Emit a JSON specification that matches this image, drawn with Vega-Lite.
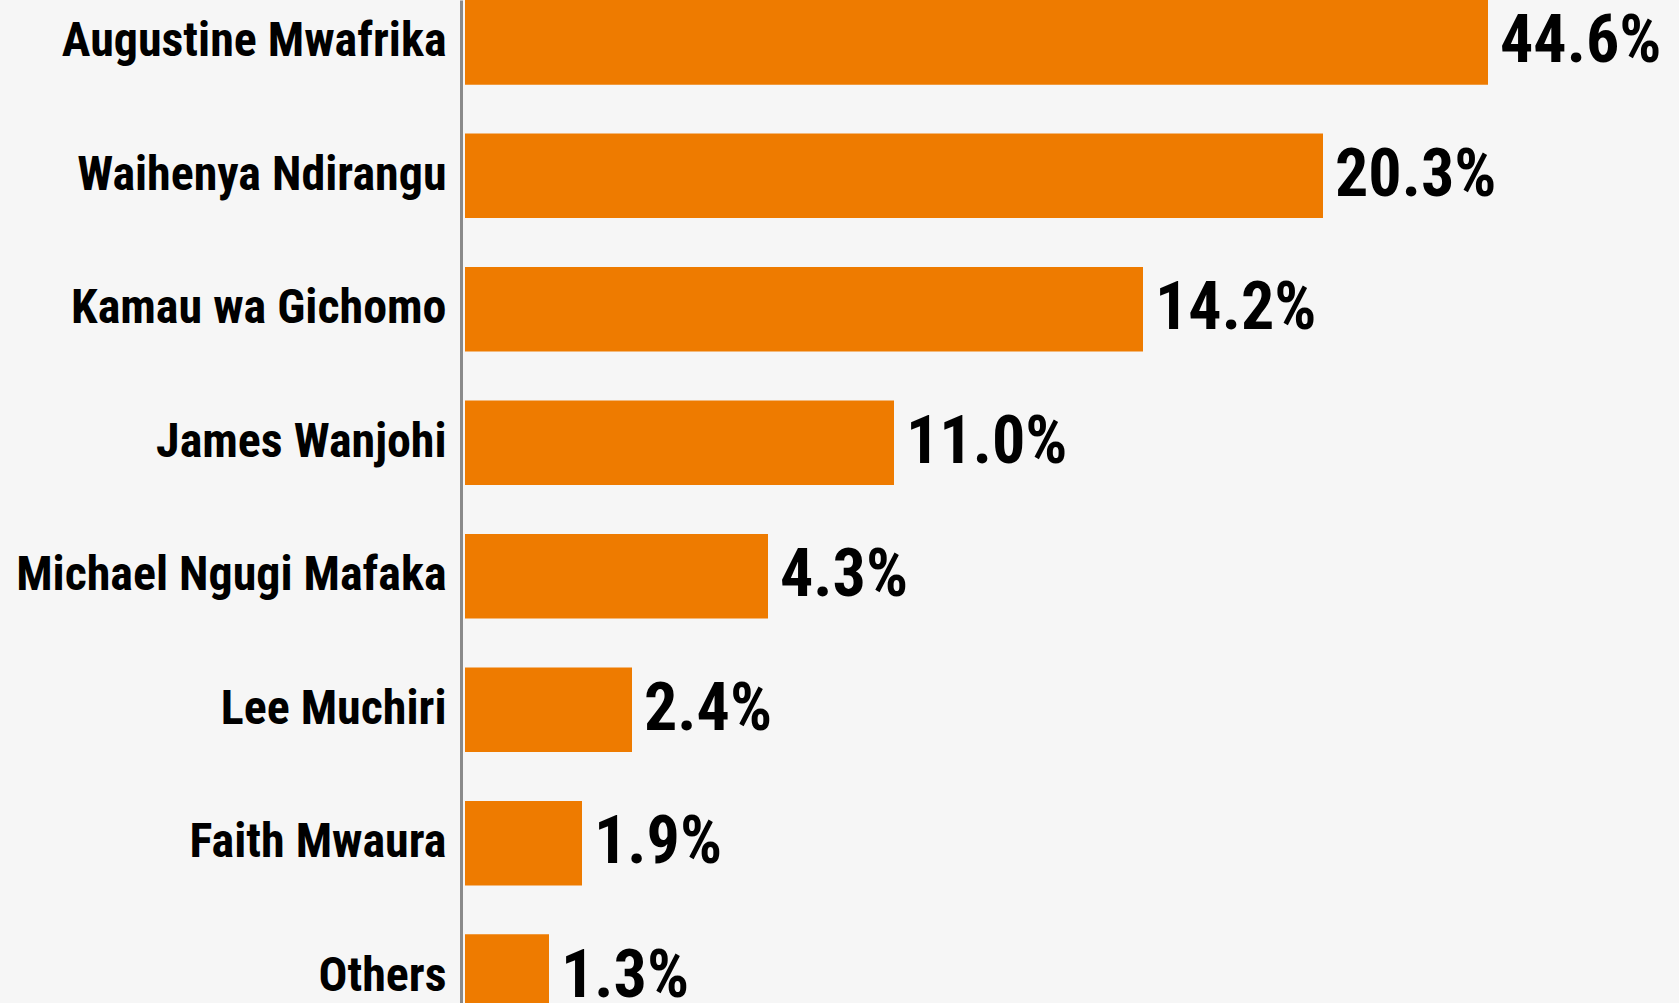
{
  "$schema": "https://vega.github.io/schema/vega-lite/v6.json",
  "width": 1218,
  "height": 1019,
  "autosize": {"type": "none"},
  "padding": {"left": 461, "top": 0, "right": 0, "bottom": 0},
  "background": "#f6f6f6",
  "config": {"view": {"stroke": null}},
  "data": {
    "values": [
      {"candidate": "Augustine Mwafrika", "share": 0.446},
      {"candidate": "Waihenya Ndirangu", "share": 0.203},
      {"candidate": "Kamau wa Gichomo", "share": 0.142},
      {"candidate": "James Wanjohi", "share": 0.110},
      {"candidate": "Michael Ngugi Mafaka", "share": 0.043},
      {"candidate": "Lee Muchiri", "share": 0.024},
      {"candidate": "Faith Mwaura", "share": 0.019},
      {"candidate": "Others", "share": 0.013}
    ]
  },
  "encoding": {
    "y": {
      "field": "candidate",
      "type": "nominal",
      "sort": null,
      "scale": {"paddingInner": 0.366, "paddingOuter": 0},
      "axis": {
        "title": null,
        "ticks": false,
        "domainColor": "#8a8a8a",
        "domainWidth": 3,
        "labelFont": "Liberation Sans Narrow, Roboto Condensed, DejaVu Sans Condensed, Arial Narrow, sans-serif",
        "labelFontSize": 48,
        "labelFontWeight": "bold",
        "labelColor": "#000000",
        "labelPadding": 15,
        "labelLimit": 600
      }
    },
    "x": {
      "field": "share",
      "type": "quantitative",
      "scale": {
        "domain": [0, 0.013, 0.019, 0.024, 0.043, 0.110, 0.142, 0.203, 0.446],
        "range": [4, 88, 121, 171, 307, 433, 682, 862, 1027],
        "nice": false,
        "zero": true
      },
      "axis": null
    }
  },
  "layer": [
    {"mark": {"type": "bar", "color": "#ee7b00"}},
    {
      "mark": {
        "type": "text",
        "align": "left",
        "baseline": "middle",
        "dx": 12,
        "font": "Liberation Sans Narrow, Roboto Condensed, DejaVu Sans Condensed, Arial Narrow, sans-serif",
        "fontSize": 66,
        "fontWeight": "bold",
        "color": "#000000"
      },
      "encoding": {"text": {"field": "share", "type": "quantitative", "format": ".1%"}}
    }
  ]
}
